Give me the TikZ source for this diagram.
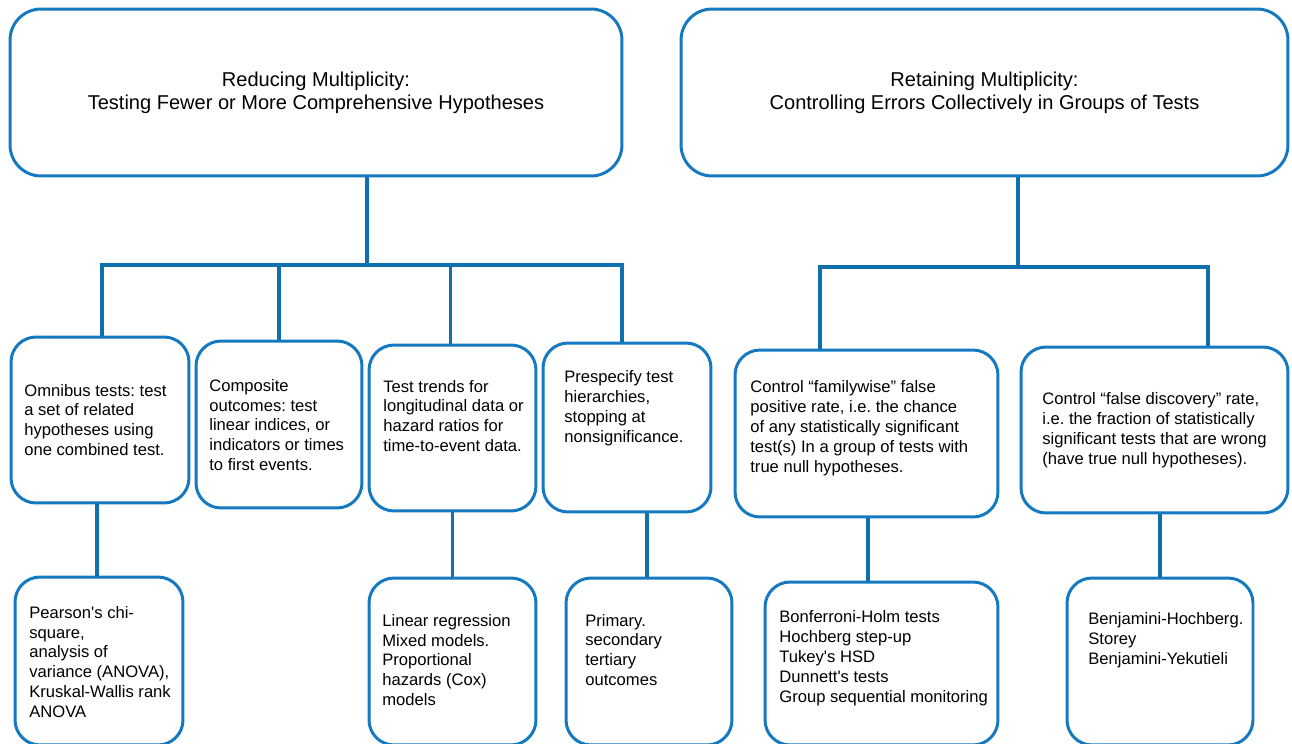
\documentclass[tikz,border=0pt]{standalone}
\usepackage{fontspec}
\setmainfont{Liberation Sans}
\definecolor{boxblue}{RGB}{20,121,192}
\definecolor{linkblue}{RGB}{12,113,172}
\tikzset{
	frame/.style={draw=boxblue, line width=1.7pt, rounded corners=0.5cm, fill=white},
	headframe/.style={frame, rounded corners=0.62cm, align=center, font=\fontsize{11.4}{13}\selectfont},
	txt/.style={anchor=west, align=left, inner sep=0pt, font=\fontsize{9.45}{11.34}\selectfont},
	link/.style={draw=linkblue, line width=1.8pt},
}
\begin{document}
\frenchspacing
\begin{tikzpicture}[x=0.02cm, y=-0.02cm]
				\useasboundingbox (0,0) rectangle (1292,744);
				% two headings
				\node[headframe, minimum width=12.24cm, minimum height=3.34cm] (redu) at (316,92.5) {Reducing Multiplicity:\\Testing Fewer or More Comprehensive Hypotheses};
				\node[headframe, minimum width=12.14cm, minimum height=3.34cm] (reta) at (984.5,92.5) {Retaining Multiplicity:\\Controlling Errors Collectively in Groups of Tests};
				% second row
				\node[frame, minimum width=3.56cm, minimum height=3.32cm] (b1) at (100,420) {};
				\node[frame, minimum width=3.32cm, minimum height=3.34cm] (b2) at (279,424.5) {};
				\node[frame, minimum width=3.34cm, minimum height=3.32cm] (b3) at (452.5,428) {};
				\node[frame, minimum width=3.36cm, minimum height=3.38cm] (b4) at (627,427.5) {};
				\node[frame, minimum width=5.26cm, minimum height=3.34cm] (d1) at (866.5,433.5) {};
				\node[frame, minimum width=5.34cm, minimum height=3.32cm] (d2) at (1154.5,430) {};
				% third row
				\node[frame, minimum width=3.36cm, minimum height=3.36cm] (c1) at (99,661) {};
				\node[frame, minimum width=3.34cm, minimum height=3.34cm] (c3) at (452.5,661.5) {};
				\node[frame, minimum width=3.32cm, minimum height=3.34cm] (c4) at (649,661.5) {};
				\node[frame, minimum width=4.66cm, minimum height=3.26cm] (e1) at (881.5,663.5) {};
				\node[frame, minimum width=3.72cm, minimum height=3.34cm] (e2) at (1160,661.5) {};
				% texts
				\node[txt] (b1t) at (24,420) {Omnibus tests: test\\a set of related\\hypotheses using\\one combined test.};
				\node[txt] (b2t) at (209,425) {Composite\\outcomes: test\\linear indices, or\\indicators or times\\to first events.};
				\node[txt] (b3t) at (383,416) {Test trends for\\longitudinal data or\\hazard ratios for\\time-to-event data.};
				\node[txt] (b4t) at (564,408) {Prespecify test\\hierarchies,\\stopping at\\nonsignificance.};
				\node[txt] (d1t) at (750,428) {Control “familywise” false\\positive rate, i.e. the chance\\of any statistically significant\\test(s) In a group of tests with\\true null hypotheses.};
				\node[txt] (d2t) at (1042,430) {Control “false discovery” rate,\\i.e. the fraction of statistically\\significant tests that are wrong\\(have true null hypotheses).};
				\node[txt] (c1t) at (29,662) {Pearson\textquotesingle s chi-\\square,\\analysis of\\variance (ANOVA),\\Kruskal-Wallis rank\\ANOVA};
				\node[txt] (c3t) at (382,660) {Linear regression\\Mixed models.\\Proportional\\hazards (Cox)\\models};
				\node[txt] (c4t) at (585,650) {Primary.\\secondary\\tertiary\\outcomes};
				\node[txt] (e1t) at (779,658) {Bonferroni-Holm tests\\Hochberg step-up\\Tukey\textquotesingle s HSD\\Dunnett\textquotesingle s tests\\Group sequential monitoring};
				\node[txt] (e2t) at (1088,640) {Benjamini-Hochberg.\\Storey\\Benjamini-Yekutieli};
				% tree lines
				\coordinate (busL) at (367,265);
				\coordinate (busR) at (1018,267);
				\draw[link] (redu.south -| busL) -- (busL);
				\draw[link] ([shift={(2,0)}]b1.north) |- (busL);
				\draw[link] (b2.north) |- (busL);
				\draw[link] ([shift={(-2,0)}]b3.north) |- (busL);
				\draw[link] ([shift={(-5,0)}]b4.north) |- (busL);
				\draw[link] (reta.south -| busR) -- (busR);
				\draw[link] ([shift={(-46.5,0)}]d1.north) |- (busR);
				\draw[link] ([shift={(53.5,0)}]d2.north) |- (busR);
				\draw[link] ([shift={(-2,0)}]c1.north) -- ([shift={(-2,0)}]c1.north |- b1.south);
				\draw[link] (b3.south) -- (c3.north);
				\draw[link] ([shift={(-2,0)}]c4.north) -- ([shift={(-2,0)}]c4.north |- b4.south);
				\draw[link] ([shift={(1.5,0)}]d1.south) -- ([shift={(1.5,0)}]d1.south |- e1.north);
				\draw[link] (e2.north) -- (e2.north |- d2.south);
			\end{tikzpicture}
\end{document}
